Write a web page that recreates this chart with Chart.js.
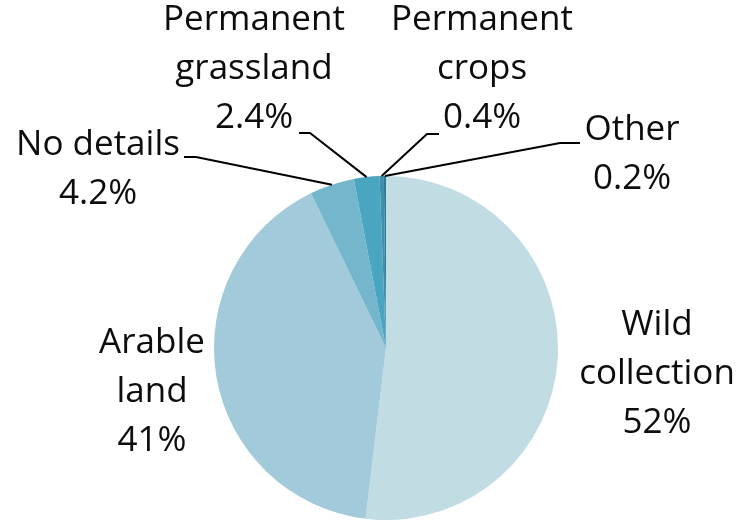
<!DOCTYPE html>
<html>
<head>
<meta charset="utf-8">
<script src="https://cdn.jsdelivr.net/npm/chart.js@4.4.1/dist/chart.umd.min.js"></script>
<style>
  html, body { margin: 0; padding: 0; background: #fff; }
  #wrap { width: 740px; height: 522px; position: relative; }
</style>
</head>
<body>
<div id="wrap"><canvas id="pieChart"></canvas></div>
<script>
// Land use shares (%)
const categories = ['Wild collection', 'Arable land', 'No details', 'Permanent grassland', 'Permanent crops', 'Other'];
const shares = [52, 41, 4.2, 2.4, 0.4, 0.2];
const shareLabels = ['52%', '41%', '4.2%', '2.4%', '0.4%', '0.2%'];
const nameLines = [['Wild', 'collection'], ['Arable', 'land'], ['No details'], ['Permanent', 'grassland'], ['Permanent', 'crops'], ['Other']];
const sliceColors = ['#c2dce4', '#a2cadb', '#74b7cd', '#4aa5c0', '#3d90ab', '#2e7a92'];

// where each label block sits and how its leader line bends (null = no line)
const labelPos = [
    { x: 657, y: 325 },
    { x: 152, y: 343 },
    { x: 98, y: 145 },
    { x: 254, y: 20 },
    { x: 482, y: 20 },
    { x: 632, y: 130 }
];
const leaders = [
    null,
    null,
    { tx: 184, ty: 157, ex: 196, ey: 157 },
    { tx: 299, ty: 133, ex: 310, ey: 133 },
    { tx: 439, ty: 134, ex: 427, ey: 134 },
    { tx: 580, ty: 143, ex: 560, ey: 143 }
];

const lineHeight = 49;

const labelPlugin = {
    id: 'outerLabels',
    afterDatasetsDraw(chart) {
        const ctx = chart.ctx;
        const meta = chart.getDatasetMeta(0);
        ctx.save();
        // leader lines
        ctx.strokeStyle = '#000';
        ctx.lineWidth = 2;
        meta.data.forEach(function(arc, i) {
            const l = leaders[i];
            if (!l) return;
            const mid = (arc.startAngle + arc.endAngle) / 2;
            const px = arc.x + Math.cos(mid) * arc.outerRadius;
            const py = arc.y + Math.sin(mid) * arc.outerRadius;
            ctx.beginPath();
            ctx.moveTo(l.tx, l.ty);
            ctx.lineTo(l.ex, l.ey);
            ctx.lineTo(px, py);
            ctx.stroke();
        });
        // text
        ctx.fillStyle = '#0d0d0d';
        ctx.font = '35px "Open Sans", sans-serif';
        ctx.textAlign = 'center';
        ctx.textBaseline = 'middle';
        meta.data.forEach(function(arc, i) {
            const lines = nameLines[i].concat([shareLabels[i]]);
            const p = labelPos[i];
            lines.forEach(function(t, k) {
                ctx.fillText(t, p.x, p.y + k * lineHeight);
            });
        });
        ctx.restore();
    }
};

new Chart(document.getElementById('pieChart').getContext('2d'), {
    type: 'pie',
    data: {
        labels: categories,
        datasets: [{
            data: shares,
            backgroundColor: sliceColors,
            borderWidth: 0
        }]
    },
    options: {
        responsive: true,
        maintainAspectRatio: false,
        animation: false,
        layout: { padding: { top: 176, bottom: 2, left: 214, right: 182 } },
        plugins: {
            legend: { display: false },
            tooltip: { enabled: false }
        }
    },
    plugins: [labelPlugin]
});
</script>
</body>
</html>
